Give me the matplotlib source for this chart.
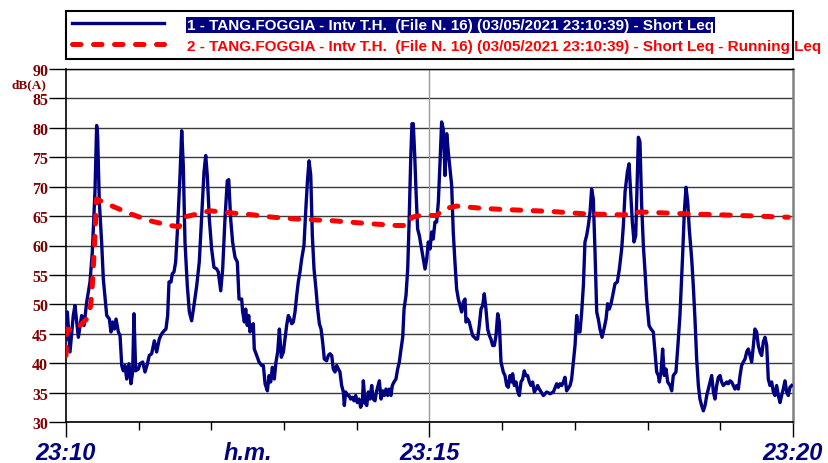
import matplotlib
matplotlib.use("Agg")
import matplotlib.pyplot as plt
from matplotlib.ticker import MultipleLocator
from matplotlib import font_manager


# seconds after 23:10:00
short_t = [
    0.0, 1.1, 3.3, 6.0, 7.4, 10.2, 12.9, 14.9, 17.1, 19.8,
    21.7, 23.9, 25.3, 26.1, 27.5, 29.4, 30.8, 33.6, 35.8, 37.1,
    38.5, 39.9, 41.3, 43.2, 44.6, 46.0, 47.3, 48.7, 50.1, 52.0,
    53.6, 55.0, 56.1, 57.5, 59.7, 61.1, 63.3, 65.2, 67.2, 68.7,
    70.7, 72.9, 74.8, 77.0, 79.0, 80.9, 82.5, 83.9, 85.0, 86.7,
    87.7, 89.1, 90.5, 91.9, 94.1, 95.5, 96.8, 98.2, 100.1, 101.8,
    103.7, 105.6, 107.9, 110.0, 112.0, 113.9, 115.3, 116.6, 118.3, 120.2,
    122.1, 124.4, 125.7, 127.7, 129.3, 131.2, 133.1, 134.3, 135.9, 137.5,
    139.5, 141.4, 142.8, 145.0, 145.8, 147.2, 148.3, 149.6, 150.8, 151.9,
    153.2, 154.6, 155.4, 157.4, 159.3, 161.5, 162.9, 164.3, 166.2, 167.6,
    168.9, 170.3, 171.9, 173.3, 174.7, 176.1, 177.7, 179.4, 180.7, 182.1,
    183.5, 184.9, 186.3, 187.6, 189.0, 190.4, 191.7, 193.1, 194.5, 196.4,
    197.8, 199.2, 200.6, 202.0, 203.3, 204.7, 206.3, 207.7, 209.1, 210.5,
    211.8, 213.2, 215.1, 216.5, 217.9, 219.3, 220.6, 222.0, 223.4, 224.8,
    226.1, 227.5, 228.9, 229.7, 230.8, 232.2, 233.6, 234.9, 236.3, 237.7,
    239.1, 240.4, 241.8, 243.2, 244.6, 245.4, 246.8, 248.2, 249.5, 250.9,
    252.3, 253.6, 255.0, 256.4, 258.6, 260.0, 261.4, 262.7, 264.1, 265.5,
    266.8, 268.2, 269.3, 270.7, 272.3, 273.7, 275.1, 276.5, 277.9, 279.0,
    280.6, 282.0, 283.1, 284.5, 285.5, 286.6, 287.8, 288.9, 290.2, 291.6,
    293.5, 294.9, 296.3, 297.7, 299.0, 300.4, 301.8, 303.1, 304.5, 305.9,
    307.3, 308.7, 310.0, 311.4, 312.8, 314.2, 315.5, 316.9, 318.3, 319.6,
    321.0, 322.4, 323.8, 325.2, 326.5, 327.9, 329.3, 330.1, 331.5, 332.8,
    334.2, 335.6, 337.0, 338.4, 339.7, 341.1, 342.5, 343.9, 345.2, 346.6,
    348.0, 349.4, 350.7, 352.1, 353.5, 354.9, 356.3, 357.6, 359.0, 360.9,
    362.3, 363.7, 365.0, 366.4, 367.8, 368.6, 370.0, 371.4, 372.7, 374.1,
    375.5, 376.9, 378.2, 379.6, 381.0, 382.4, 383.7, 385.1, 386.5, 387.9,
    389.2, 390.6, 394.0, 396.7, 399.5, 402.2, 405.0, 406.3, 407.7, 409.1,
    410.5, 411.8, 413.2, 416.0, 417.3, 418.7, 420.1, 421.5, 422.8, 424.2,
    425.6, 427.0, 428.3, 429.7, 431.1, 432.5, 433.8, 435.2, 436.6, 438.0,
    439.3, 440.7, 442.4, 444.0, 445.7, 447.0, 448.4, 449.8, 451.2, 453.1,
    455.0, 456.7, 458.6, 460.0, 461.4, 463.3, 464.7, 466.0, 467.4, 468.8,
    470.2, 471.5, 472.4, 473.7, 475.1, 476.5, 477.9, 479.2, 481.2, 482.8,
    484.7, 486.1, 487.5, 488.9, 489.7, 491.1, 492.4, 493.8, 495.2, 496.6,
    498.5, 499.9, 501.2, 503.4, 504.8, 506.7, 508.9, 510.3, 511.7, 513.1,
    514.4, 516.4, 517.7, 519.1, 520.5, 521.9, 523.2, 524.6, 526.0, 527.4,
    528.8, 530.1, 531.5, 532.9, 534.3, 535.6, 537.0, 538.4, 539.8, 541.1,
    542.5, 543.9, 545.3, 546.6, 548.0, 549.4, 550.8, 552.1, 553.5, 554.9,
    556.3, 557.6, 559.0, 560.4, 561.8, 563.1, 564.5, 565.9, 567.3, 568.6,
    570.0, 571.4, 572.8, 574.1, 575.5, 576.9, 578.3, 579.6, 581.0, 582.4,
    583.8, 585.1, 586.5, 587.9, 589.3, 590.6, 592.0, 593.4, 594.8, 596.1,
    597.5, 598.9,
]
short_leq = [
    44.1, 48.7, 41.9, 48.1, 49.8, 44.4, 48.1, 46.4, 50.4, 53.8,
    58.9, 69.1, 80.4, 78.7, 67.4, 60.6, 54.3, 48.1, 47.5, 45.3,
    47.0, 45.8, 47.5, 45.3, 44.7, 39.6, 38.7, 39.6, 37.3, 39.9,
    36.5, 38.5, 48.4, 38.7, 39.0, 39.9, 40.2, 38.5, 39.9, 41.3,
    41.6, 43.8, 41.9, 44.1, 45.0, 45.5, 45.8, 48.1, 53.8, 53.8,
    55.2, 55.5, 57.2, 62.3, 71.9, 79.5, 73.6, 60.6, 53.2, 48.7,
    47.2, 49.8, 53.2, 57.2, 65.1, 72.5, 75.3, 71.9, 64.5, 59.4,
    56.3, 56.0, 55.5, 52.3, 56.0, 64.5, 71.0, 71.2, 64.5, 60.6,
    58.0, 57.2, 50.9, 50.9, 48.7, 47.0, 49.2, 46.4, 48.1, 45.3,
    46.4, 46.7, 42.4, 41.3, 40.2, 39.6, 39.6, 36.5, 35.3, 37.9,
    36.8, 39.3, 37.3, 40.2, 41.9, 45.8, 41.0, 41.9, 44.1, 46.4,
    48.1, 47.5, 46.7, 47.0, 48.7, 51.5, 53.8, 55.5, 57.7, 60.0,
    65.7, 70.8, 74.4, 71.9, 61.7, 56.0, 52.6, 49.2, 46.7, 45.8,
    43.6, 40.7, 40.4, 41.3, 41.6, 41.3, 39.0, 38.5, 39.6, 39.0,
    38.5, 36.2, 35.1, 32.8, 35.1, 34.5, 34.5, 33.9, 34.2, 33.6,
    34.5, 33.3, 33.9, 32.5, 33.3, 37.0, 33.3, 32.8, 35.1, 33.9,
    36.2, 33.9, 33.6, 35.3, 37.0, 33.9, 35.3, 34.5, 35.6, 34.5,
    35.6, 34.5, 36.2, 36.8, 37.3, 39.0, 40.2, 42.4, 44.4, 49.2,
    51.5, 56.0, 63.4, 74.7, 80.7, 80.7, 75.3, 69.1, 62.8, 61.7,
    59.4, 57.7, 56.0, 57.7, 60.6, 59.4, 62.3, 61.1, 64.0, 64.0,
    67.4, 74.2, 81.0, 79.8, 71.9, 79.0, 75.9, 73.0, 70.2, 62.3,
    57.2, 52.6, 50.9, 49.8, 48.7, 50.4, 50.9, 47.0, 47.5, 47.0,
    45.8, 44.7, 44.4, 44.1, 44.1, 46.4, 49.2, 49.8, 51.8, 49.2,
    45.8, 44.7, 44.1, 43.0, 43.0, 44.7, 48.4, 47.0, 40.2, 38.5,
    37.9, 36.2, 35.9, 37.9, 36.8, 38.2, 36.2, 36.8, 35.3, 34.5,
    36.8, 37.3, 38.7, 37.9, 37.9, 36.8, 36.2, 36.8, 35.1, 35.6,
    36.2, 35.6, 34.5, 35.1, 34.8, 35.1, 36.5, 35.9, 36.5, 36.2,
    36.8, 37.6, 35.3, 36.2, 37.3, 40.2, 43.0, 48.1, 45.3, 45.3,
    48.7, 53.2, 60.6, 61.7, 63.4, 65.7, 69.6, 67.9, 58.9, 48.7,
    47.5, 45.8, 44.4, 45.8, 47.5, 50.1, 49.2, 50.1, 51.5, 53.5,
    53.8, 56.0, 59.4, 63.4, 69.1, 72.5, 73.9, 69.1, 64.0, 60.6,
    61.7, 71.9, 78.4, 77.6, 66.8, 60.0, 55.5, 50.9, 46.4, 45.8,
    45.3, 41.9, 38.5, 37.9, 36.8, 38.5, 42.4, 37.9, 39.0, 36.8,
    36.2, 35.3, 37.9, 38.5, 42.4, 48.1, 58.3, 65.7, 69.9, 67.4,
    62.8, 57.7, 53.2, 47.5, 40.7, 36.2, 33.9, 32.8, 31.9, 32.8,
    34.5, 35.6, 36.8, 37.9, 35.1, 33.9, 36.2, 37.6, 37.9, 36.8,
    36.2, 36.5, 36.8, 36.5, 37.0, 36.8, 36.2, 35.6, 36.2, 35.6,
    37.9, 39.6, 40.2, 40.7, 41.9, 42.4, 41.3, 40.2, 43.0, 45.8,
    45.3, 43.0, 41.9, 41.3, 43.6, 44.4, 43.0, 37.3, 36.2, 36.8,
    35.1, 34.5, 36.2, 34.5, 33.3, 34.5, 35.6, 37.0, 35.1, 34.5,
    35.9, 36.2,
]

running_t = [
    0.0, 0.6, 6.0, 11.6, 17.1, 20.4, 21.7, 23.4, 24.8, 25.3,
    33.6, 52.8, 69.3, 85.8, 93.5, 96.5, 105.1, 118.8, 138.1, 154.6,
    171.1, 190.4, 220.6, 250.9, 272.9, 282.5, 285.3, 292.2, 305.9, 311.4,
    322.4, 344.4, 363.7, 399.4, 426.9, 460.0, 473.7, 509.5, 542.5, 570.0,
    596.1,
]
running_leq = [
    41.3, 45.8, 45.5, 46.4, 47.5, 49.8, 53.2, 59.4, 66.2, 67.9,
    67.1, 65.4, 64.2, 63.4, 63.2, 64.8, 65.2, 65.9, 65.5, 65.2,
    64.8, 64.5, 64.2, 63.7, 63.4, 63.4, 64.8, 65.1, 65.1, 66.2,
    66.7, 66.3, 66.1, 65.8, 65.4, 65.2, 65.7, 65.4, 65.2, 65.0,
    64.8,
]

major_ticks = [0, 300, 600]
major_labels = ["23:10", "23:15", "23:20"]
label_short = "1 - TANG.FOGGIA - Intv T.H.  (File N. 16) (03/05/2021 23:10:39) - Short Leq"
label_running = "2 - TANG.FOGGIA - Intv T.H.  (File N. 16) (03/05/2021 23:10:39) - Short Leq - Running Leq"

NAVY = "#000080"
DARK_RED = "#800000"

names = {f.name for f in font_manager.fontManager.ttflist}
narrow = "Liberation Sans Narrow" if "Liberation Sans Narrow" in names else "Liberation Sans"

W, H = 829, 464
fig = plt.figure(figsize=(W / 100, H / 100), dpi=100)
ax = fig.add_axes([66 / W, 1 - 423 / H, (793 - 66) / W, (423 - 70) / H])

ax.plot(short_t, short_leq, color=NAVY, linewidth=2.4, solid_joinstyle="round",
        label=label_short, zorder=3)
ax.plot(running_t, running_leq, color="red", linewidth=3.6,
        linestyle=(0, (1.7, 2.5)), dash_capstyle="round",
        label=label_running, zorder=4)

ax.set_xlim(0, 600)
ax.set_ylim(30, 90)
ax.yaxis.set_major_locator(MultipleLocator(5))
ax.yaxis.grid(True, color="#3a3a3a", linewidth=1.0)
ax.axvline(300, color="#9a9a9a", linewidth=1.0, zorder=1)
ax.set_axisbelow(True)

for side in ("left", "bottom"):
    ax.spines[side].set_color("black")
    ax.spines[side].set_linewidth(1.2)
ax.spines["top"].set_color("black")
ax.spines["top"].set_linewidth(1.0)
ax.spines["right"].set_color("#808080")
ax.spines["right"].set_linewidth(1.8)

ax.tick_params(axis="y", direction="out", length=12, width=1.0, pad=0.8,
               labelcolor=DARK_RED, labelsize=11.5)
for lab in ax.get_yticklabels():
    lab.set_fontfamily("Liberation Serif")
    lab.set_fontweight("bold")

ax.set_xticks(major_ticks)
ax.set_xticklabels(major_labels)
ax.xaxis.set_minor_locator(MultipleLocator(60))
ax.tick_params(axis="x", which="major", direction="out", length=11, width=1.0,
               pad=3, labelcolor=NAVY, labelsize=17)
ax.tick_params(axis="x", which="minor", direction="out", length=6, width=1.0)
for lab in ax.get_xticklabels():
    lab.set_fontfamily("Liberation Sans")
    lab.set_fontweight("bold")
    lab.set_fontstyle("italic")

ax.set_xlabel("h.m.", color=NAVY, fontsize=17, fontweight="bold",
              fontstyle="italic", fontfamily="Liberation Sans")
ax.xaxis.set_label_coords(0.25, -0.055)
ax.xaxis.label.set_va("top")

# unit label squeezed between the 90 and 85 tick labels
fig.text(29 / W, 1 - 85 / H, "dB(A)", color=DARK_RED, fontsize=9.5,
         fontweight="bold", fontfamily="Liberation Serif", ha="center", va="center")

leg = ax.legend(loc="lower left", bbox_to_anchor=(0, 1.028, 1, 0.14), mode="expand",
                borderaxespad=0, fancybox=False, framealpha=1, handlelength=6.0,
                handletextpad=1.5, labelspacing=0.45, borderpad=0.42,
                prop={"family": narrow, "weight": "bold", "size": 11})
leg.get_frame().set_edgecolor("black")
leg.get_frame().set_linewidth(1.5)
t1, t2 = leg.get_texts()
t1.set_color("white")
t1.set_bbox(dict(facecolor=NAVY, edgecolor="none", pad=0.6))
t2.set_color("red")

fig.savefig("out.png", dpi=100)
